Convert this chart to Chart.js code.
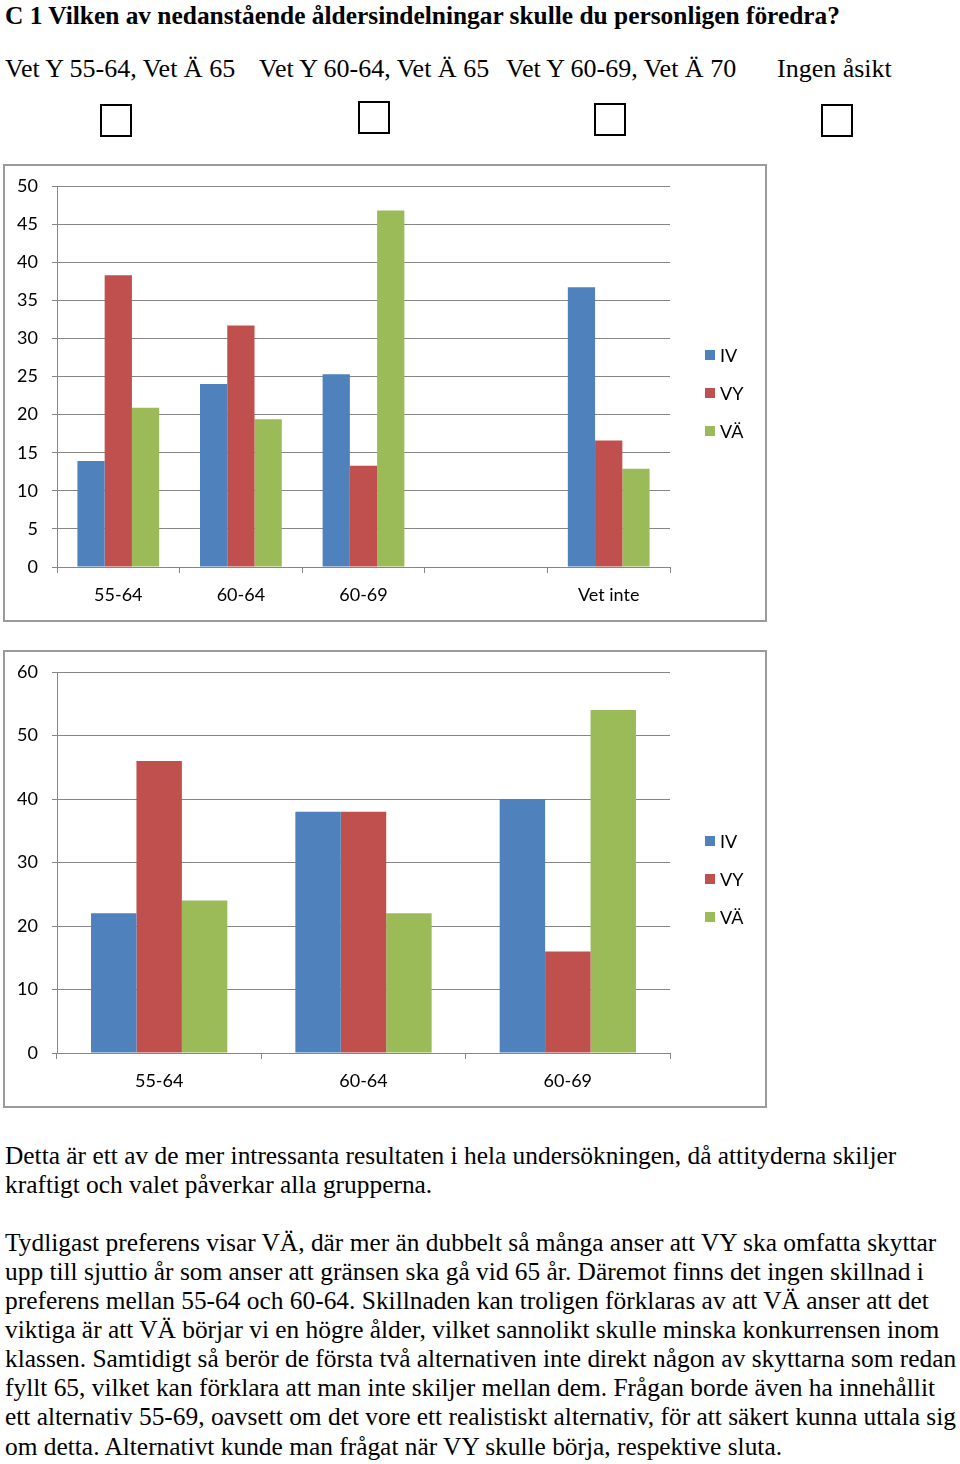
<!DOCTYPE html>
<html>
<head>
<meta charset="utf-8">
<script src="https://cdn.jsdelivr.net/npm/chart.js@4"></script>
<style>
  body { margin: 0; background: #fff; width: 960px; height: 1464px; position: relative; overflow: hidden; }
  .txt { position: absolute; font-family: "Liberation Serif", "Times New Roman", serif; color: #000; white-space: nowrap; }
  .head { font-weight: bold; font-size: 25.4px; line-height: 30px; }
  .opt { font-size: 26px; line-height: 30px; }
  .par { font-size: 25.4px; line-height: 29px; left: 5px; }
  .box { position: absolute; width: 32px; height: 33px; border: 2px solid #000; box-sizing: border-box; }
  .chartbox { position: absolute; left: 3px; width: 764px; height: 458px; border: 2px solid #9a9a9a; box-sizing: border-box; }
</style>
</head>
<body>

<div class="txt head" style="left:5px; top:0px;">C 1 Vilken av nedanstående åldersindelningar skulle du personligen föredra?</div>

<div class="txt opt" style="left:5px; top:54px;">Vet Y 55-64, Vet Ä 65</div>
<div class="txt opt" style="left:259px; top:54px;">Vet Y 60-64, Vet Ä 65</div>
<div class="txt opt" style="left:506px; top:54px;">Vet Y 60-69, Vet Ä 70</div>
<div class="txt opt" style="left:777px; top:54px;">Ingen åsikt</div>

<div class="box" style="left:100px; top:104px;"></div>
<div class="box" style="left:358px; top:101px;"></div>
<div class="box" style="left:594px; top:103px;"></div>
<div class="box" style="left:821px; top:104px;"></div>

<div class="chartbox" style="top:164px;"><canvas id="chart1"></canvas></div>
<div class="chartbox" style="top:650px;"><canvas id="chart2"></canvas></div>

<div class="txt par" style="top:1141px;">Detta är ett av de mer intressanta resultaten i hela undersökningen, då attityderna skiljer</div>
<div class="txt par" style="top:1170px;">kraftigt och valet påverkar alla grupperna.</div>

<div class="txt par" style="top:1228px;">Tydligast preferens visar VÄ, där mer än dubbelt så många anser att VY ska omfatta skyttar</div>
<div class="txt par" style="top:1257px;">upp till sjuttio år som anser att gränsen ska gå vid 65 år. Däremot finns det ingen skillnad i</div>
<div class="txt par" style="top:1286px;">preferens mellan 55-64 och 60-64. Skillnaden kan troligen förklaras av att VÄ anser att det</div>
<div class="txt par" style="top:1315px;">viktiga är att VÄ börjar vi en högre ålder, vilket sannolikt skulle minska konkurrensen inom</div>
<div class="txt par" style="top:1344px;">klassen. Samtidigt så berör de första två alternativen inte direkt någon av skyttarna som redan</div>
<div class="txt par" style="top:1373px;">fyllt 65, vilket kan förklara att man inte skiljer mellan dem. Frågan borde även ha innehållit</div>
<div class="txt par" style="top:1402px;">ett alternativ 55-69, oavsett om det vore ett realistiskt alternativ, för att säkert kunna uttala sig</div>
<div class="txt par" style="top:1432px;">om detta. Alternativt kunde man frågat när VY skulle börja, respektive sluta.</div>

<script>
// series names and colours
const seriesNames = ['IV', 'VY', 'VÄ'];
const seriesColors = ['#4F81BD', '#C0504D', '#9BBB59'];

// chart 1 (the 4th slot is empty in the original)
const categories1 = ['55-64', '60-64', '60-69', '', 'Vet inte'];
const iv1 = [13.9, 24.0, 25.3, null, 36.7];
const vy1 = [38.3, 31.7, 13.3, null, 16.6];
const va1 = [20.9, 19.4, 46.8, null, 12.9];
const yMax1 = 50;
const yStep1 = 5;

// chart 2
const categories2 = ['55-64', '60-64', '60-69'];
const iv2 = [22, 38, 40];
const vy2 = [46, 38, 16];
const va2 = [24, 22, 54];
const yMax2 = 60;
const yStep2 = 10;

const gridColor = '#868686';
const fontFamily = 'Lato, "Open Sans", sans-serif';

// legend drawn to the right of the plot, like the Excel one
const sideLegend = {
    id: 'sideLegend',
    afterDraw(chart) {
        const ctx = chart.ctx;
        const x = chart.chartArea.right + 35;
        const mid = chart.height / 2;
        ctx.save();
        ctx.font = '18px ' + fontFamily;
        ctx.textBaseline = 'middle';
        chart.data.datasets.forEach((ds, i) => {
            const y = mid + (i - 1) * 38;
            ctx.fillStyle = ds.backgroundColor;
            ctx.fillRect(x, y - 5, 10, 10);
            ctx.fillStyle = '#000';
            ctx.fillText(ds.label, x + 15, y + 1);
        });
        ctx.restore();
    }
};

function makeChart(id, labels, series, yMax, yStep) {
    const ctx = document.getElementById(id).getContext('2d');
    return new Chart(ctx, {
        type: 'bar',
        data: {
            labels: labels,
            datasets: series.map((data, i) => ({
                label: seriesNames[i],
                data: data,
                backgroundColor: seriesColors[i],
                borderWidth: 0,
                barPercentage: 1.0,
                categoryPercentage: 0.667
            }))
        },
        options: {
            responsive: true,
            maintainAspectRatio: false,
            animation: false,
            layout: { padding: { top: 20, right: 95, left: 0, bottom: 0 } },
            plugins: {
                legend: { display: false },
                tooltip: { enabled: false }
            },
            scales: {
                x: {
                    afterFit: (scale) => { scale.height = 53; },
                    grid: { display: true, drawOnChartArea: false, drawTicks: true, tickLength: 6, color: gridColor, offset: true },
                    border: { display: true, color: gridColor, width: 1 },
                    ticks: { color: '#000', font: { family: fontFamily, size: 18 }, padding: 11, maxRotation: 0 }
                },
                y: {
                    min: 0,
                    max: yMax,
                    afterFit: (scale) => {
                        scale.width = 52;
                        // the label gap should not push the plot down
                        scale.paddingTop = 10;
                        scale.paddingBottom = 10;
                    },
                    grid: { color: gridColor, lineWidth: 1, drawTicks: true, tickLength: 5 },
                    border: { display: true, color: gridColor, width: 1 },
                    ticks: { stepSize: yStep, color: '#000', font: { family: fontFamily, size: 18 }, padding: 14 }
                }
            }
        },
        plugins: [sideLegend]
    });
}

makeChart('chart1', categories1, [iv1, vy1, va1], yMax1, yStep1);
makeChart('chart2', categories2, [iv2, vy2, va2], yMax2, yStep2);
</script>
</body>
</html>
